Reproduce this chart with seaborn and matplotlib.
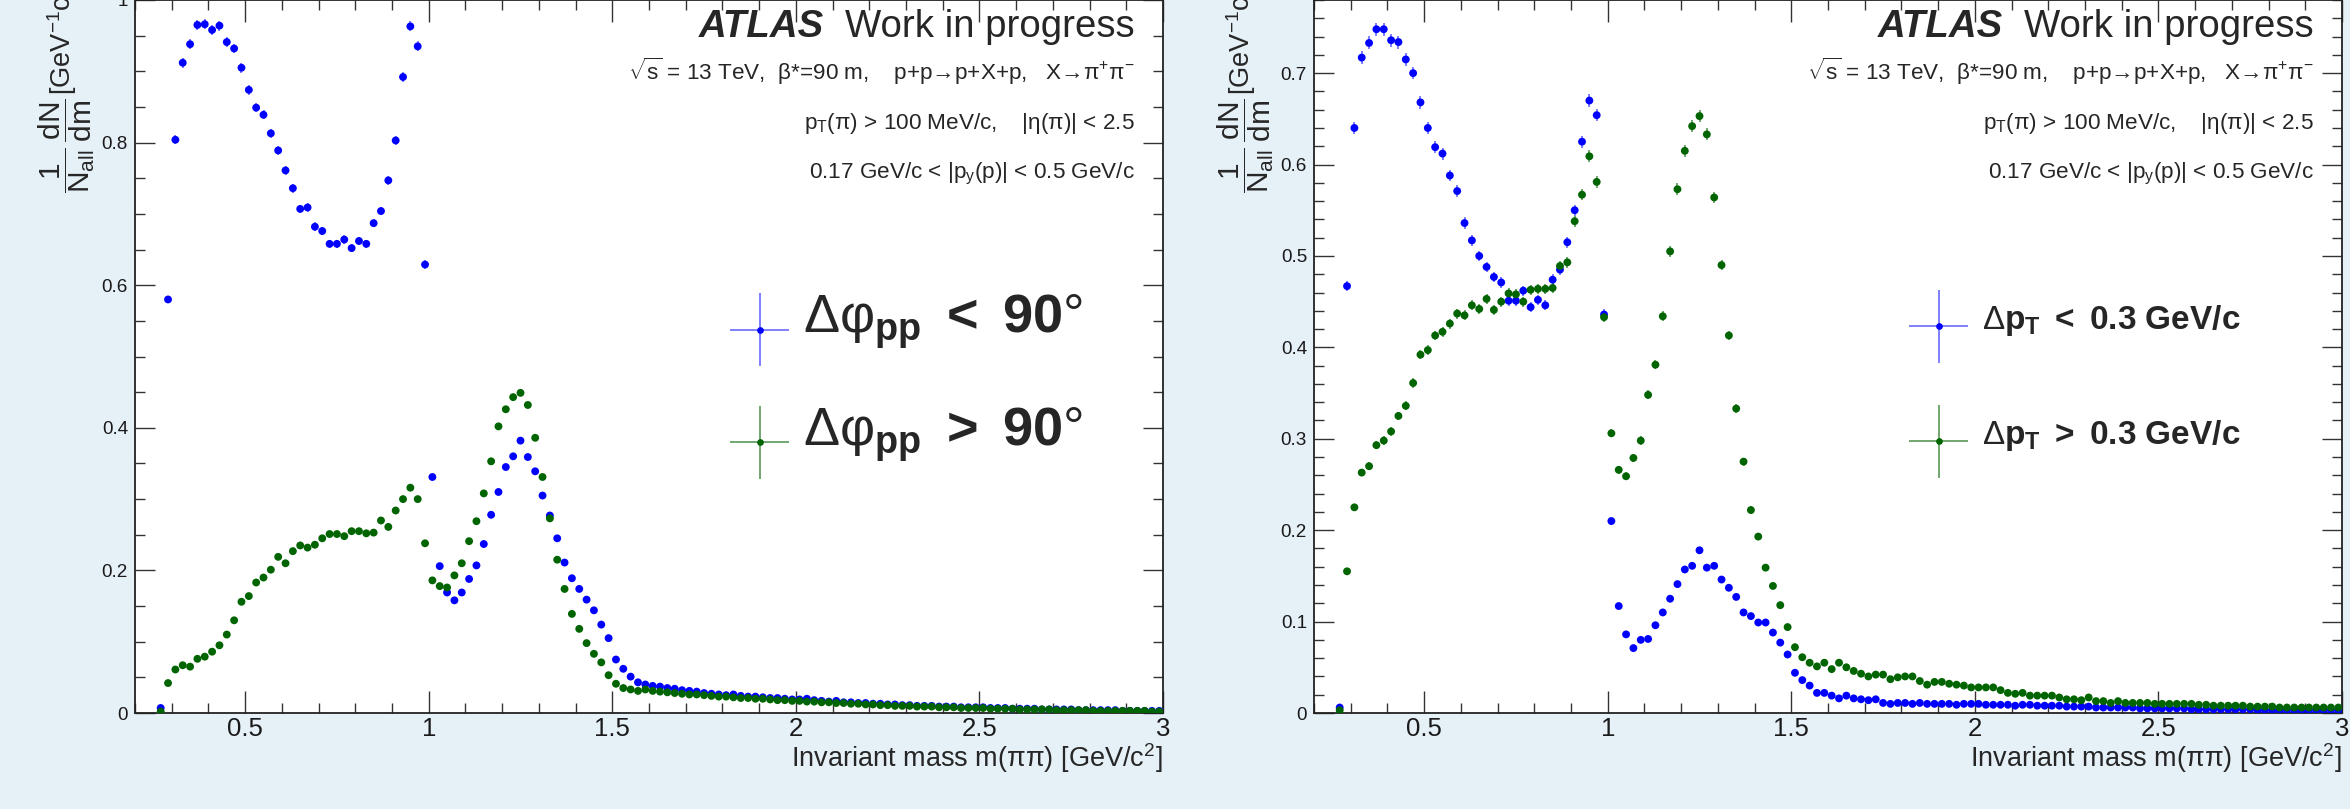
import numpy as np
import pandas as pd
import matplotlib
matplotlib.use("Agg")
import matplotlib.pyplot as plt
import seaborn as sns
from matplotlib.container import ErrorbarContainer
from matplotlib.lines import Line2D
from matplotlib.collections import LineCollection
from matplotlib.legend_handler import HandlerErrorbar
from matplotlib.ticker import MultipleLocator, FuncFormatter

# ---------------- data (bin centres of m(pi pi) in GeV/c^2, 0.02 wide bins) -------------
mass = np.round(np.arange(0.27, 3.0, 0.02), 2)

dphi_lt90 = [0.007, 0.580, 0.804, 0.912, 0.938, 0.965, 0.966, 0.958, 0.964, 0.941,
             0.932, 0.905, 0.874, 0.849, 0.839, 0.813, 0.789, 0.761, 0.736, 0.707,
             0.709, 0.682, 0.676, 0.658, 0.658, 0.664, 0.652, 0.662, 0.658, 0.687,
             0.704, 0.747, 0.803, 0.892, 0.963, 0.935, 0.629, 0.331, 0.206, 0.169,
             0.158, 0.169, 0.188, 0.207, 0.237, 0.278, 0.310, 0.345, 0.360, 0.382,
             0.359, 0.339, 0.305, 0.277, 0.245, 0.211, 0.189, 0.174, 0.159, 0.144,
             0.124, 0.105, 0.075, 0.062, 0.051, 0.043, 0.040, 0.038, 0.037, 0.035,
             0.034, 0.032, 0.031, 0.030, 0.028, 0.027, 0.026, 0.025, 0.026, 0.024,
             0.023, 0.023, 0.022, 0.021, 0.021, 0.020, 0.019, 0.019, 0.020, 0.018,
             0.017, 0.016, 0.017, 0.015, 0.015, 0.014, 0.014, 0.013, 0.013, 0.012,
             0.012, 0.011, 0.011, 0.010, 0.010, 0.010, 0.009, 0.009, 0.009, 0.008,
             0.008, 0.008, 0.008, 0.007, 0.007, 0.007, 0.006, 0.006, 0.006, 0.006,
             0.005, 0.005, 0.005, 0.005, 0.005, 0.004, 0.004, 0.004, 0.004, 0.004,
             0.004, 0.003, 0.003, 0.003, 0.003, 0.003, 0.003]

dphi_gt90 = [0.002, 0.042, 0.061, 0.067, 0.065, 0.076, 0.079, 0.086, 0.095, 0.110,
             0.130, 0.156, 0.164, 0.183, 0.190, 0.201, 0.219, 0.210, 0.227, 0.235,
             0.232, 0.236, 0.245, 0.251, 0.251, 0.248, 0.255, 0.255, 0.252, 0.253,
             0.270, 0.261, 0.284, 0.300, 0.316, 0.300, 0.238, 0.186, 0.178, 0.176,
             0.193, 0.210, 0.241, 0.269, 0.308, 0.353, 0.402, 0.426, 0.443, 0.449,
             0.432, 0.386, 0.331, 0.273, 0.215, 0.174, 0.139, 0.118, 0.098, 0.083,
             0.071, 0.053, 0.041, 0.035, 0.033, 0.031, 0.033, 0.031, 0.030, 0.029,
             0.028, 0.027, 0.026, 0.026, 0.025, 0.024, 0.023, 0.023, 0.022, 0.021,
             0.021, 0.020, 0.020, 0.019, 0.018, 0.018, 0.017, 0.017, 0.016, 0.016,
             0.015, 0.015, 0.014, 0.014, 0.013, 0.013, 0.012, 0.012, 0.011, 0.011,
             0.010, 0.010, 0.010, 0.009, 0.009, 0.009, 0.008, 0.008, 0.008, 0.007,
             0.007, 0.007, 0.007, 0.006, 0.006, 0.006, 0.006, 0.005, 0.005, 0.005,
             0.005, 0.005, 0.004, 0.004, 0.004, 0.004, 0.004, 0.003, 0.003, 0.003,
             0.003, 0.003, 0.003, 0.003, 0.003, 0.002, 0.002]

dpt_lt03 = [0.006, 0.467, 0.640, 0.717, 0.733, 0.748, 0.748, 0.736, 0.734, 0.715,
            0.700, 0.668, 0.640, 0.619, 0.612, 0.588, 0.571, 0.536, 0.517, 0.500,
            0.488, 0.477, 0.471, 0.451, 0.451, 0.462, 0.444, 0.452, 0.446, 0.474,
            0.485, 0.515, 0.550, 0.625, 0.670, 0.654, 0.436, 0.210, 0.117, 0.086,
            0.071, 0.080, 0.081, 0.096, 0.110, 0.125, 0.141, 0.157, 0.161, 0.178,
            0.159, 0.161, 0.146, 0.137, 0.127, 0.110, 0.106, 0.099, 0.099, 0.088,
            0.077, 0.064, 0.044, 0.036, 0.030, 0.022, 0.022, 0.019, 0.016, 0.019,
            0.016, 0.015, 0.014, 0.015, 0.011, 0.010, 0.011, 0.011, 0.010, 0.011,
            0.010, 0.010, 0.010, 0.010, 0.009, 0.010, 0.010, 0.010, 0.009, 0.009,
            0.009, 0.009, 0.008, 0.009, 0.009, 0.008, 0.008, 0.008, 0.008, 0.007,
            0.007, 0.007, 0.007, 0.006, 0.006, 0.006, 0.006, 0.006, 0.006, 0.005,
            0.005, 0.005, 0.005, 0.005, 0.005, 0.005, 0.004, 0.004, 0.004, 0.004,
            0.004, 0.004, 0.004, 0.004, 0.004, 0.003, 0.003, 0.003, 0.003, 0.003,
            0.003, 0.003, 0.003, 0.003, 0.003, 0.003, 0.003]

dpt_gt03 = [0.003, 0.155, 0.225, 0.263, 0.270, 0.293, 0.298, 0.308, 0.325, 0.336,
            0.361, 0.392, 0.397, 0.413, 0.417, 0.426, 0.437, 0.435, 0.446, 0.442,
            0.453, 0.441, 0.450, 0.459, 0.458, 0.450, 0.463, 0.464, 0.464, 0.465,
            0.489, 0.493, 0.538, 0.567, 0.609, 0.581, 0.433, 0.306, 0.266, 0.259,
            0.279, 0.298, 0.348, 0.381, 0.434, 0.505, 0.573, 0.615, 0.642, 0.653,
            0.633, 0.564, 0.490, 0.413, 0.333, 0.275, 0.222, 0.193, 0.159, 0.139,
            0.118, 0.094, 0.072, 0.061, 0.055, 0.051, 0.055, 0.048, 0.055, 0.050,
            0.046, 0.043, 0.040, 0.042, 0.042, 0.037, 0.039, 0.040, 0.040, 0.035,
            0.031, 0.034, 0.034, 0.032, 0.031, 0.030, 0.028, 0.028, 0.028, 0.028,
            0.025, 0.022, 0.021, 0.022, 0.019, 0.019, 0.019, 0.019, 0.017, 0.015,
            0.015, 0.014, 0.017, 0.013, 0.013, 0.011, 0.013, 0.011, 0.011, 0.011,
            0.011, 0.010, 0.010, 0.010, 0.010, 0.010, 0.010, 0.009, 0.009, 0.008,
            0.008, 0.008, 0.008, 0.008, 0.007, 0.007, 0.007, 0.007, 0.006, 0.006,
            0.006, 0.006, 0.006, 0.006, 0.006, 0.006, 0.006]

legend_dphi = [r"Δφ$_{\mathbf{pp}}$ $\mathbf{<}$ $\mathbf{90}$°",
               r"Δφ$_{\mathbf{pp}}$ $\mathbf{>}$ $\mathbf{90}$°"]
legend_dpt = [r"Δ$\mathbf{p_{T}}$ $\mathbf{<}$ $\mathbf{0.3}$ $\mathbf{GeV/c}$",
              r"Δ$\mathbf{p_{T}}$ $\mathbf{>}$ $\mathbf{0.3}$ $\mathbf{GeV/c}$"]

info_lines = [r"$\sqrt{s}$ = 13 TeV,  β*=90 m,    p+p→p+X+p,   X→π$^{+}$π$^{-}$",
              r"p$_{T}$(π) > 100 MeV/c,    |η(π)| < 2.5",
              r"0.17 GeV/c < |p$_{y}$(p)| < 0.5 GeV/c"]
xlabel = r"Invariant mass m(ππ) [GeV/c$^{2}$]"
ylabel = r"$\dfrac{1}{N_{all}}\,\dfrac{dN}{dm}$"
yunit = r"[GeV$^{-1}$c$^{2}$]"

# ---------------- style ----------------
BG = "#e6f0f7"
BLUE, BLUE_E = "#0000ff", "#5c5cff"
GREEN, GREEN_E = "#006400", "#4a8f4a"

sns.set_theme(style="ticks")
plt.rcParams["font.family"] = ["Liberation Sans", "DejaVu Sans"]
plt.rcParams["mathtext.fontset"] = "custom"
plt.rcParams["mathtext.rm"] = "Liberation Sans"
plt.rcParams["mathtext.sf"] = "Liberation Sans"
plt.rcParams["mathtext.it"] = "Liberation Sans:italic"
plt.rcParams["mathtext.bf"] = "Liberation Sans:bold"
plt.rcParams["mathtext.default"] = "regular"
plt.rcParams["axes.edgecolor"] = "#222222"
plt.rcParams["axes.linewidth"] = 1.3


class CrossHandler(HandlerErrorbar):
    def __init__(self, drop=0.0, **kw):
        super().__init__(**kw)
        self._drop = drop

    def adjust_drawing_area(self, legend, orig_handle, xdescent, ydescent,
                            width, height, fontsize):
        xd, yd, w, h = super().adjust_drawing_area(legend, orig_handle, xdescent,
                                                   ydescent, width, height, fontsize)
        return xd, yd + 2 * self._drop, w, h


def cross(color, ecolor):
    line = Line2D([], [], ls="none", marker="o", ms=3.8, color=color, mec=color)
    bars = LineCollection([], colors=[ecolor], linewidths=[1.1])
    return ErrorbarContainer((line, (), (bars,)), has_xerr=True, has_yerr=True)


W, H = 2350, 809
fig = plt.figure(figsize=(W / 100, H / 100), dpi=100)
fig.patch.set_facecolor(BG)

panels = [
    dict(x0=135, lo=dphi_lt90, hi=dphi_gt90, labels=legend_dphi, ymax=1.0,
         major=0.2, minor=0.05, k=0.0072, lfs=39, lspace=1.0),
    dict(x0=1314, lo=dpt_lt03, hi=dpt_gt03, labels=legend_dpt, ymax=0.78,
         major=0.1, minor=0.02, k=0.0083, lfs=24, lspace=2.4),
]

for p in panels:
    ax = fig.add_axes([p["x0"] / W, (H - 713) / H, 1028 / W, 713 / H])
    ax.set_facecolor("white")
    lo = np.asarray(p["lo"])
    hi = np.asarray(p["hi"])
    n = len(mass)
    df = pd.DataFrame({"mass": np.concatenate([mass, mass]),
                       "value": np.concatenate([lo, hi]),
                       "sel": ["lo"] * n + ["hi"] * n})
    ax.errorbar(mass, lo, yerr=p["k"] * np.sqrt(lo), fmt="none", ecolor=BLUE_E,
                elinewidth=1.1, zorder=2)
    ax.errorbar(mass, hi, yerr=p["k"] * np.sqrt(hi), fmt="none", ecolor=GREEN_E,
                elinewidth=1.1, zorder=2)
    sns.scatterplot(data=df, x="mass", y="value", hue="sel",
                    palette={"lo": BLUE, "hi": GREEN}, s=32, linewidth=0,
                    legend=False, ax=ax, zorder=3)

    ax.set_xlim(0.2, 3.0)
    ax.set_ylim(0, p["ymax"])
    ax.xaxis.set_major_locator(MultipleLocator(0.5))
    ax.xaxis.set_minor_locator(MultipleLocator(0.1))
    ax.yaxis.set_major_locator(MultipleLocator(p["major"]))
    ax.yaxis.set_minor_locator(MultipleLocator(p["minor"]))
    fmt = FuncFormatter(lambda v, pos: f"{v:g}")
    ax.xaxis.set_major_formatter(fmt)
    ax.yaxis.set_major_formatter(fmt)
    ax.tick_params(which="both", direction="in", top=True, right=True,
                   color="#333333", width=1.0)
    ax.tick_params(axis="x", which="major", length=15.5, labelsize=18.5, pad=3,
                   labelcolor="#1a1a1a")
    ax.tick_params(axis="y", which="major", length=14.4, labelsize=13.6, pad=5,
                   labelcolor="#1a1a1a")
    ax.tick_params(which="minor", length=7.2)
    for s in ax.spines.values():
        s.set_visible(True)

    ax.set_xlabel(xlabel, fontsize=19.5, loc="right", va="baseline")
    ax.xaxis.set_label_coords(1.0, (713 - 767) / 713)
    ax.set_ylabel(ylabel, fontsize=21.5, ha="left", va="center")
    ax.yaxis.set_label_coords(-0.066, 0.729)
    ax.text(-0.071, (713 - 95) / 713, yunit, transform=ax.transAxes, rotation=90,
            rotation_mode="anchor", ha="left", va="center", fontsize=19.5,
            clip_on=False)

    # ATLAS block
    ax.text(0.670, 0.948, "ATLAS", transform=ax.transAxes, ha="right", va="baseline",
            fontsize=27.6, fontweight="bold", fontstyle="italic")
    ax.text(0.9728, 0.948, "Work in progress", transform=ax.transAxes, ha="right",
            va="baseline", fontsize=27.6)
    for txt, yb in zip(info_lines, [0.888, 0.819, 0.750]):
        ax.text(0.9728, yb, txt, transform=ax.transAxes, ha="right", va="baseline",
                fontsize=16.2)

    # legend
    fs = p["lfs"]
    h_lo, h_hi = cross(BLUE, BLUE_E), cross(GREEN, GREEN_E)
    half_pt = 22.7
    handler = CrossHandler(drop=0.35 * fs - 2.0, xerr_size=21.2 / fs,
                           yerr_size=26.3 / fs, numpoints=1)
    ax.legend([h_lo, h_hi], p["labels"], handler_map={ErrorbarContainer: handler},
              loc="center left", bbox_to_anchor=(0.577, 0.47), frameon=False,
              borderpad=0, borderaxespad=0, fontsize=fs, numpoints=1,
              handlelength=2 * half_pt / fs, handletextpad=8.3 / fs,
              labelspacing=p["lspace"])

fig.savefig("out.png", dpi=100, facecolor=BG)
